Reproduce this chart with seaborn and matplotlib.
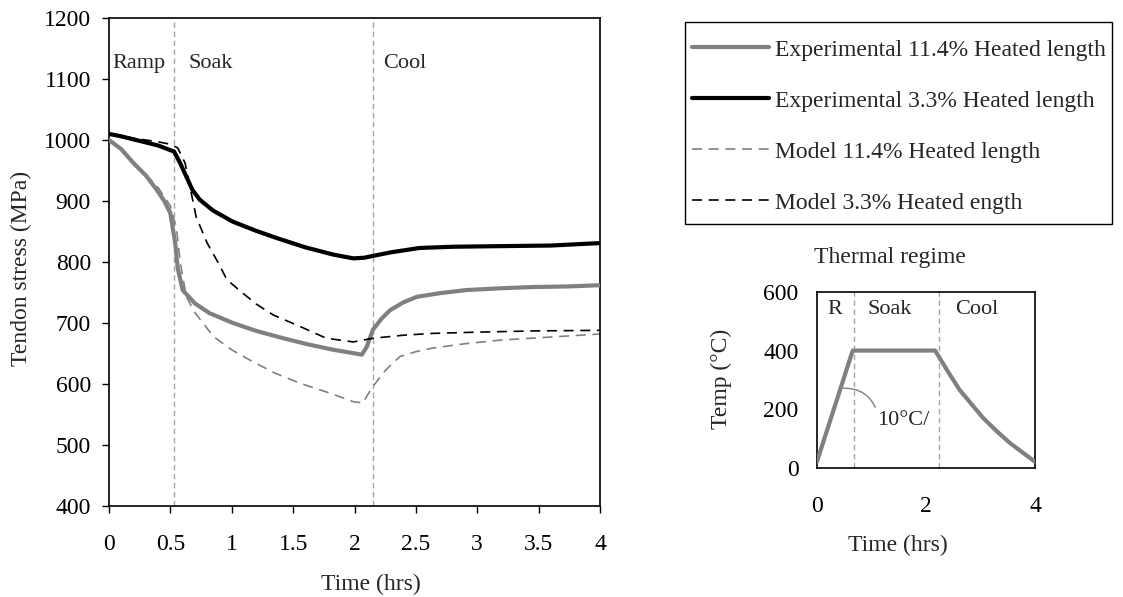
import numpy as np
import pandas as pd
import matplotlib
matplotlib.use("Agg")
import matplotlib.pyplot as plt
from matplotlib.lines import Line2D
from matplotlib.patches import Rectangle
import seaborn as sns

# ---- Tendon stress histories (MPa) ----
exp_114_t = [0.0, 0.1, 0.2, 0.3, 0.39, 0.45, 0.5, 0.54, 0.56, 0.6, 0.7, 0.82, 1.01, 1.2, 1.42,
             1.62, 1.83, 1.95, 2.06, 2.1, 2.15, 2.22, 2.29, 2.4, 2.51, 2.7, 2.91, 3.2, 3.46, 3.75, 4.0]
exp_114_s = [1000, 985, 962, 942, 918, 900, 880, 830, 790, 754, 732, 716, 700, 687, 675,
             665, 656, 652, 648, 661, 689, 707, 721, 734, 743, 749, 754, 757, 759, 760, 762]

exp_33_t = [0.0, 0.1, 0.2, 0.3, 0.4, 0.53, 0.58, 0.63, 0.68, 0.74, 0.85, 1.01, 1.2, 1.37,
            1.6, 1.83, 1.99, 2.08, 2.15, 2.3, 2.53, 2.8, 3.19, 3.6, 4.0]
exp_33_s = [1010, 1006, 1001, 996, 991, 981, 962, 940, 918, 902, 884, 866, 851, 839,
            824, 812, 806, 807, 810, 816, 823, 825, 826, 827, 831]

mod_114_t = [0.0, 0.2, 0.4, 0.5, 0.55, 0.58, 0.63, 0.7, 0.85, 1.0, 1.15, 1.35, 1.56,
             1.8, 1.99, 2.07, 2.1, 2.15, 2.25, 2.37, 2.5, 2.64, 2.9, 3.19, 3.6, 4.0]
mod_114_s = [1000, 964, 922, 892, 855, 800, 743, 717, 678, 656, 639, 618, 601,
             585, 571, 569, 580, 596, 622, 645, 653, 659, 666, 672, 677, 682]

mod_33_t = [0.0, 0.2, 0.4, 0.5, 0.56, 0.62, 0.66, 0.71, 0.8, 0.9, 0.96, 1.09, 1.2, 1.34,
            1.56, 1.77, 1.99, 2.15, 2.4, 2.64, 3.0, 3.46, 4.0]
mod_33_s = [1010, 1003, 997, 993, 987, 962, 923, 874, 831, 795, 771, 749, 731, 713,
            694, 675, 669, 675, 680, 683, 685, 687, 688]

series_labels = ["Experimental 11.4% Heated length",
                 "Experimental 3.3% Heated length",
                 "Model 11.4% Heated length",
                 "Model 3.3% Heated ength"]

# ---- Thermal regime (deg C) ----
temp_t = [0.0, 0.66, 2.17, 2.4, 2.62, 2.85, 3.05, 3.3, 3.54, 3.8, 4.0]
temp_c = [20, 400, 400, 330, 266, 215, 171, 126, 86, 50, 22]

phase_bounds_main = [0.53, 2.15]
phase_bounds_inset = [0.68, 2.24]

sns.set_style("white")
plt.rcParams["font.family"] = ["Liberation Serif", "DejaVu Serif"]
FS = 17
FS_SMALL = 16
GRAY = "#808080"
VGRAY = "#a6a6a6"
W, H = 1123, 597

fig = plt.figure(figsize=(W / 100, H / 100), dpi=100)
fig.patch.set_facecolor("white")

# ---------------- main axes ----------------
ax = fig.add_axes([109 / W, 1 - 506 / H, 491 / W, 488 / H])

def df(t, s):
    return pd.DataFrame({"t": t, "s": s})

for xv in phase_bounds_main:
    ax.axvline(xv, color=VGRAY, lw=1.0, linestyle=(0, (4, 2.5)), zorder=1)

sns.lineplot(data=df(exp_114_t, exp_114_s), x="t", y="s", ax=ax, color=GRAY,
             lw=3.0, estimator=None, sort=False, zorder=3)
sns.lineplot(data=df(exp_33_t, exp_33_s), x="t", y="s", ax=ax, color="black",
             lw=3.0, estimator=None, sort=False, zorder=4)
sns.lineplot(data=df(mod_114_t, mod_114_s), x="t", y="s", ax=ax, color=GRAY,
             lw=1.2, estimator=None, sort=False, linestyle=(0, (6, 4)), zorder=2)
sns.lineplot(data=df(mod_33_t, mod_33_s), x="t", y="s", ax=ax, color="black",
             lw=1.2, estimator=None, sort=False, linestyle=(0, (6, 4)), zorder=5)

ax.set_xlim(0, 4)
ax.set_ylim(400, 1200)
ax.set_xticks(np.arange(0, 4.01, 0.5))
ax.set_xticklabels(["0", "0.5", "1", "1.5", "2", "2.5", "3", "3.5", "4"])
ax.set_yticks(np.arange(400, 1201, 100))
ax.tick_params(axis="both", direction="out", length=5, width=1, labelsize=FS,
               colors="black")
ax.tick_params(axis="x", bottom=True, top=False, pad=15)
ax.tick_params(axis="y", left=True, right=False, pad=8)
for sp in ax.spines.values():
    sp.set_color("black")
    sp.set_linewidth(1.2)
ax.set_xlabel("Time (hrs)", fontsize=FS)
ax.set_ylabel("Tendon stress (MPa)", fontsize=FS)
ax.xaxis.set_label_coords(0.534, -0.140)
ax.yaxis.set_label_coords(-0.157, 0.486)

ax.text(0.024, 1126, "Ramp", fontsize=FS_SMALL, ha="left", va="center")
ax.text(0.65, 1126, "Soak", fontsize=FS_SMALL, ha="left", va="center")
ax.text(2.23, 1126, "Cool", fontsize=FS_SMALL, ha="left", va="center")

handles = [
    Line2D([], [], color=GRAY, lw=3.0),
    Line2D([], [], color="black", lw=3.0),
    Line2D([], [], color=GRAY, lw=1.2, linestyle=(0, (6, 4))),
    Line2D([], [], color="black", lw=1.2, linestyle=(0, (6, 4))),
]
leg = ax.legend(handles, series_labels, loc="upper left",
                bbox_to_anchor=(692 / W, 1 - 39 / H), bbox_transform=fig.transFigure,
                fontsize=FS, frameon=False, handlelength=3.25, handletextpad=0.27,
                labelspacing=1.25, borderpad=0, borderaxespad=0)
# legend frame
fig.patches.append(Rectangle((685 / W, 1 - 224 / H), 427 / W, 202 / H,
                             transform=fig.transFigure, fill=False,
                             edgecolor="black", lw=1.0))

# ---------------- inset: thermal regime ----------------
ax2 = fig.add_axes([816.7 / W, 1 - 468.3 / H, 218.3 / W, 176.6 / H])
for xv in phase_bounds_inset:
    ax2.axvline(xv, color=VGRAY, lw=1.0, linestyle=(0, (4, 2.5)), zorder=1)
sns.lineplot(data=pd.DataFrame({"t": temp_t, "c": temp_c}), x="t", y="c", ax=ax2,
             color=GRAY, lw=3.0, estimator=None, sort=False, zorder=3)
ax2.set_xlim(0, 4)
ax2.set_ylim(0, 600)
ax2.set_xticks([0, 2, 4])
ax2.set_yticks([0, 200, 400, 600])
ax2.tick_params(axis="both", direction="out", length=5, width=1, labelsize=FS,
                colors="black")
ax2.tick_params(axis="x", pad=15)
ax2.tick_params(axis="y", pad=8)
for sp in ax2.spines.values():
    sp.set_color("black")
    sp.set_linewidth(1.2)
ax2.set_xlabel("Time (hrs)", fontsize=FS)
ax2.set_ylabel("Temp (°C)", fontsize=FS)
ax2.xaxis.set_label_coords(0.372, -0.378)
ax2.yaxis.set_label_coords(-0.388, 0.506)
ax2.text(0.335, 538, "R", fontsize=FS_SMALL, ha="center", va="center")
ax2.text(1.34, 538, "Soak", fontsize=FS_SMALL, ha="center", va="center")
ax2.text(2.93, 538, "Cool", fontsize=FS_SMALL, ha="center", va="center")
ax2.annotate("10°C/", xy=(0.49, 272), xytext=(1.1, 196), fontsize=FS_SMALL,
             ha="left", va="top",
             arrowprops=dict(arrowstyle="-", color=GRAY, lw=1.0,
                             connectionstyle="arc3,rad=0.35", relpos=(0, 1),
                             shrinkA=0, shrinkB=0))

fig.text(890 / W, 1 - 258 / H, "Thermal regime", fontsize=FS,
         ha="center", va="center")

fig.savefig("out.png", dpi=100, facecolor="white")
